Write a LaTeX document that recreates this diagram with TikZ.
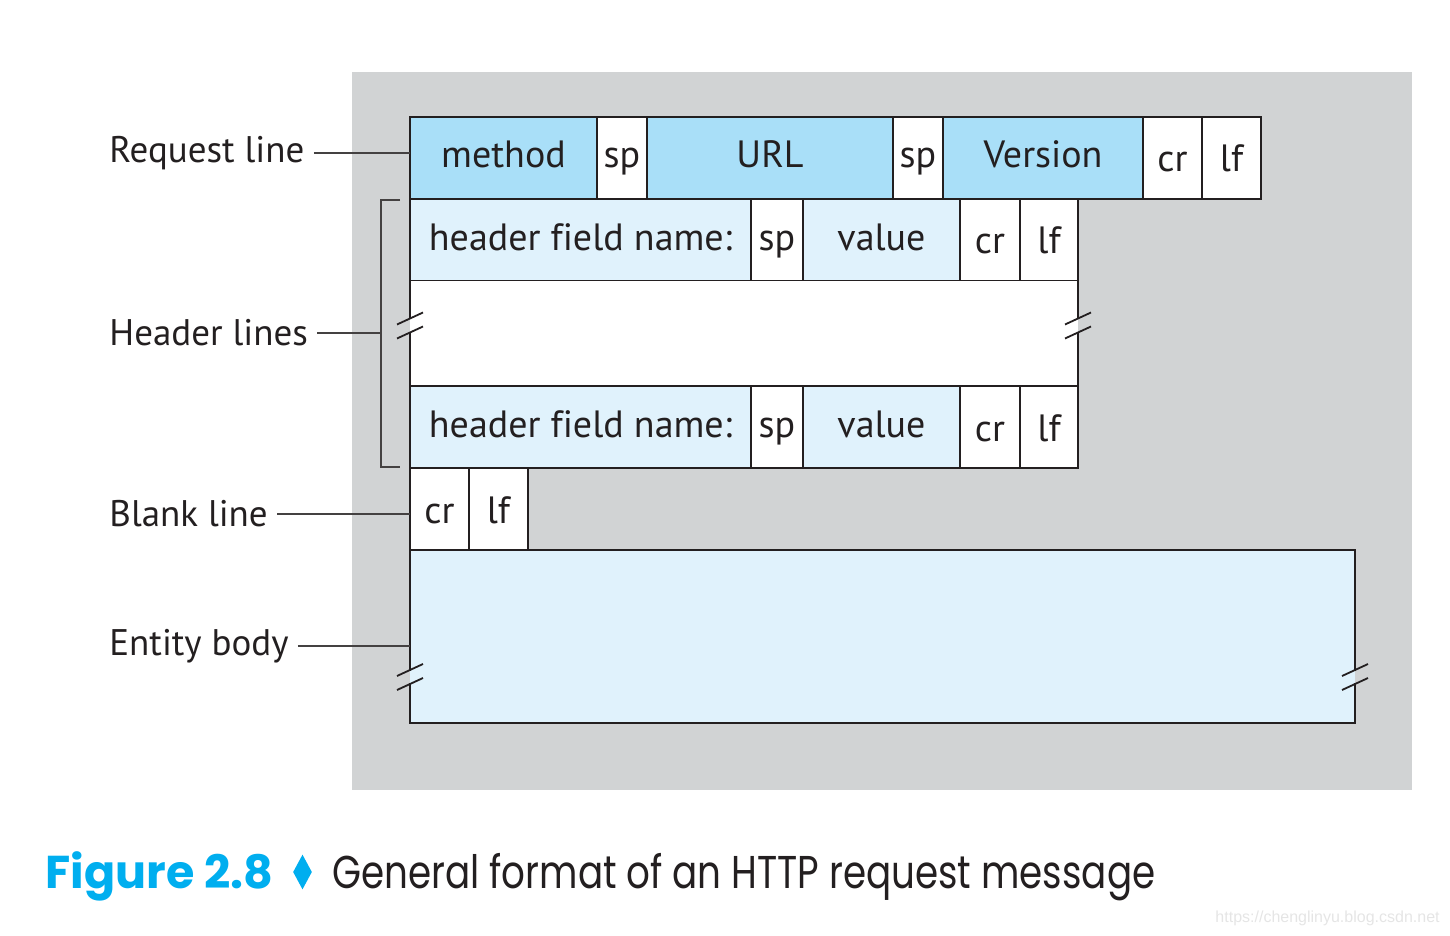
\documentclass[tikz,border=0pt]{standalone}
\usepackage{fontspec}
\setmainfont[Ligatures=NoCommon]{PT Sans}
\newfontfamily\capfont{Poppins}
\newfontfamily\markfont{Liberation Sans}
\usetikzlibrary{positioning, shapes.geometric}
\definecolor{reqblue}{HTML}{A9DFF8}
\definecolor{hdrblue}{HTML}{E0F2FC}
\definecolor{panelgray}{HTML}{D1D3D4}
\definecolor{inkdark}{HTML}{231F20}
\definecolor{figcyan}{HTML}{00AEEF}
\tikzset{
  fmtcell/.style={rectangle, draw=inkdark, line width=0.85pt, inner sep=0pt, outer sep=0pt,
    minimum height=41pt, text height=13pt, text depth=3pt, font=\fontsize{19}{22}\selectfont, text=inkdark},
  reqcell/.style={fmtcell, fill=reqblue},
  hdrcell/.style={fmtcell, fill=hdrblue},
  spcell/.style={fmtcell, fill=white},
  ctlcell/.style={fmtcell, fill=white, text height=14pt, text depth=0pt},
  sidelabel/.style={anchor=west, inner ysep=0pt, inner xsep=4.5pt, font=\fontsize{18.5}{22}\selectfont, text=inkdark},
  leader/.style={draw=inkdark!85, line width=0.55pt},
  edgeline/.style={draw=inkdark, line width=0.85pt, line cap=rect},
  breakmark/.style={draw=inkdark, line width=0.9pt},
}
% two slanted strokes across a cut edge
\newcommand{\cutmark}[1]{%
  \draw[breakmark] ([shift={(-6.5pt,0.5pt)}]#1) -- ([shift={(6.5pt,6.5pt)}]#1);
  \draw[breakmark] ([shift={(-6.5pt,-6.5pt)}]#1) -- ([shift={(6.5pt,-0.5pt)}]#1);}

\begin{document}
\begin{tikzpicture}[x=0.5pt, y=-0.5pt]
  \useasboundingbox (0,0) rectangle (1450,936);
  \fill[panelgray] (352,72) rectangle (1412,790);

  % Request line.
  \node[reqcell, minimum width=93.5pt, anchor=north west] (method) at (410,117) {method};
  \node[spcell, minimum width=25pt, right=0pt of method] (sp_a) {sp};
  \node[reqcell, minimum width=123pt, right=0pt of sp_a] (url) {URL};
  \node[spcell, minimum width=25pt, right=0pt of url] (sp_b) {sp};
  \node[reqcell, minimum width=100pt, right=0pt of sp_b] (version) {Version};
  \node[ctlcell, minimum width=29.5pt, right=0pt of version] (cr_req) {cr};
  \node[ctlcell, minimum width=29.5pt, right=0pt of cr_req] (lf_req) {lf};

  % Header lines.
  \node[hdrcell, minimum width=170.5pt, anchor=north west] (hname_a) at (method.south west) {header field name:};
  \node[spcell, minimum width=26pt, right=0pt of hname_a] (hsp_a) {sp};
  \node[hdrcell, minimum width=78.5pt, right=0pt of hsp_a] (hval_a) {value};
  \node[ctlcell, minimum width=30pt, right=0pt of hval_a] (hcr_a) {cr};
  \node[ctlcell, minimum width=29pt, right=0pt of hcr_a] (hlf_a) {lf};

  \node[fill=white, inner sep=0pt, outer sep=0pt, minimum width=334pt, minimum height=52.5pt,
    anchor=north west] (gap) at (hname_a.south west) {};

  \node[hdrcell, minimum width=170.5pt, anchor=north west] (hname_b) at (gap.south west) {header field name:};
  \node[spcell, minimum width=26pt, right=0pt of hname_b] (hsp_b) {sp};
  \node[hdrcell, minimum width=78.5pt, right=0pt of hsp_b] (hval_b) {value};
  \node[ctlcell, minimum width=30pt, right=0pt of hval_b] (hcr_b) {cr};
  \node[ctlcell, minimum width=29pt, right=0pt of hcr_b] (hlf_b) {lf};

  % Blank line and entity body.
  \node[ctlcell, minimum width=29.5pt, anchor=north west] (cr_blank) at (hname_b.south west) {cr};
  \node[ctlcell, minimum width=29.5pt, right=0pt of cr_blank] (lf_blank) {lf};
  \node[fill=hdrblue, inner sep=0pt, outer sep=0pt, minimum width=472.5pt, minimum height=86.5pt,
    anchor=north west] (body) at (cr_blank.south west) {};

  % Cut edges.
  \coordinate (gapcut_l) at ([yshift=4pt]gap.west);
  \coordinate (gapcut_r) at ([yshift=4pt]gap.east);
  \coordinate (bodycut_l) at ([yshift=-20.25pt]body.west);
  \coordinate (bodycut_r) at ([yshift=-20.25pt]body.east);
  \draw[edgeline] (gap.north west) -- ([yshift=3.5pt]gapcut_l) ([yshift=-3.5pt]gapcut_l) -- (gap.south west);
  \draw[edgeline] (gap.north east) -- ([yshift=3.5pt]gapcut_r) ([yshift=-3.5pt]gapcut_r) -- (gap.south east);
  \draw[edgeline] ([yshift=3.5pt]bodycut_l) -- (body.north west) -- (body.north east) -- ([yshift=3.5pt]bodycut_r)
    ([yshift=-3.5pt]bodycut_r) -- (body.south east) -- (body.south west) -- ([yshift=-3.5pt]bodycut_l);
  \cutmark{gapcut_l}
  \cutmark{gapcut_r}
  \cutmark{bodycut_l}
  \cutmark{bodycut_r}

  % Labels on the left.
  \node[sidelabel] (req_lbl) at (100,153) {Request line};
  \node[sidelabel] (hdr_lbl) at (100,333) {Header lines};
  \node[sidelabel] (blank_lbl) at (100,514) {Blank line};
  \node[sidelabel] (body_lbl) at (100,646) {Entity body};

  \coordinate (brace_top) at (381,200);
  \coordinate (brace_bot) at (381,467);
  \draw[leader] (400,200) -- (brace_top) -- (brace_bot) -- (400,467);
  \draw[leader] (req_lbl.east) -- (req_lbl.east -| method.west);
  \draw[leader] (hdr_lbl.east) -- (hdr_lbl.east -| brace_top);
  \draw[leader] (blank_lbl.east) -- (blank_lbl.east -| cr_blank.west);
  \draw[leader] (body_lbl.east) -- (body_lbl.east -| body.west);

  % Caption.
  \node[anchor=base west, inner sep=0pt, text=figcyan, font=\capfont\bfseries\fontsize{23}{26}\selectfont]
    (fig_no) at (45,888) {Figure 2.8};
  \node[diamond, fill=figcyan, inner sep=0pt, minimum width=9.5pt, minimum height=17.5pt, aspect=0.5]
    (fig_dia) at (302.5,872) {};
  \node[anchor=base west, inner sep=0pt, text=inkdark, font=\capfont\fontsize{23}{26}\selectfont]
    (fig_text) at (332,888) {\scalebox{0.81}[1]{General format of an HTTP request message}};
  \node[anchor=base east, inner sep=0pt, text=black!10, font=\markfont\fontsize{8}{9}\selectfont]
    (watermark) at (1440,922) {https://chenglinyu.blog.csdn.net};
\end{tikzpicture}
\end{document}
